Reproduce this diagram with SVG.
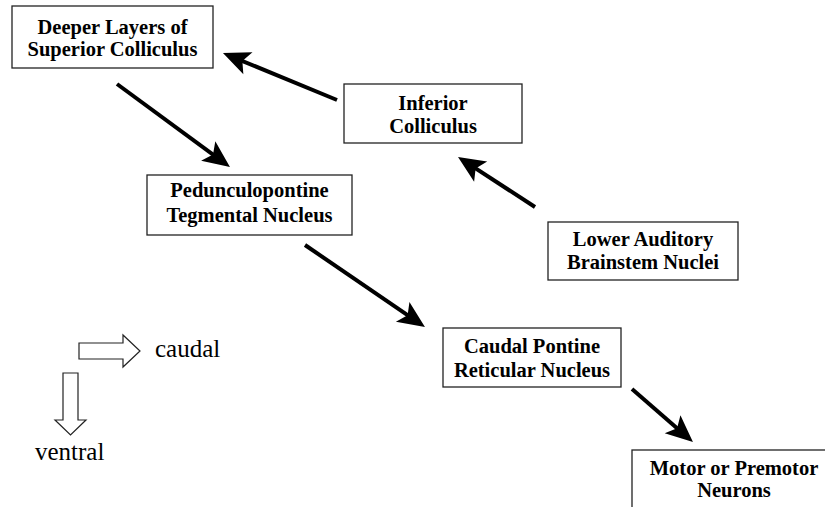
<svg xmlns="http://www.w3.org/2000/svg" width="825" height="507" viewBox="0 0 825 507">
<style>
.box{fill:#fff;stroke:#222;stroke-width:1.3}
.lbl{font-family:'Liberation Serif','Times New Roman',Times,'DejaVu Serif',serif;font-weight:700;font-size:20.5px;fill:#000;text-anchor:middle}
.conn{stroke:#000;stroke-width:4;fill:none;marker-end:url(#ah)}
.hollow{fill:#fff;stroke:#222;stroke-width:1.2}
.dir{font-family:'Liberation Serif','Times New Roman',Times,'DejaVu Serif',serif;font-size:25px;fill:#000}
</style>
<defs>
<marker id="ah" viewBox="-28 -13 30 26" refX="-10" refY="0" markerWidth="30" markerHeight="26" markerUnits="userSpaceOnUse" orient="auto">
<path d="M0,0 L-27,-12 L-21,0 L-27,12 Z" fill="#000"/>
</marker>
</defs>
<rect width="825" height="507" fill="#fff"/>
<g id="connectors">
<line class="conn" x1="337" y1="100" x2="232.2" y2="56.8"/>
<line class="conn" x1="117" y1="84" x2="221.9" y2="161.1"/>
<line class="conn" x1="535" y1="207" x2="466.4" y2="162.4"/>
<line class="conn" x1="305" y1="245" x2="416.7" y2="321.4"/>
<line class="conn" x1="632" y1="389" x2="685.4" y2="435.4"/>
</g>
<g id="deeper-layers">
<rect class="box" x="12" y="6" width="201" height="62"/>
<text class="lbl" x="112.5" y="34">Deeper Layers of</text>
<text class="lbl" x="112.5" y="56">Superior Colliculus</text>
</g>
<g id="inferior-colliculus">
<rect class="box" x="344" y="84" width="178" height="59"/>
<text class="lbl" x="433" y="110">Inferior</text>
<text class="lbl" x="433" y="133">Colliculus</text>
</g>
<g id="pedunculopontine">
<rect class="box" x="147" y="175" width="205" height="60"/>
<text class="lbl" x="249.5" y="197">Pedunculopontine</text>
<text class="lbl" x="249.5" y="222">Tegmental Nucleus</text>
</g>
<g id="lower-auditory">
<rect class="box" x="548" y="222" width="190" height="58"/>
<text class="lbl" x="643" y="246">Lower Auditory</text>
<text class="lbl" x="643" y="269">Brainstem Nuclei</text>
</g>
<g id="caudal-pontine">
<rect class="box" x="443" y="328" width="178" height="59"/>
<text class="lbl" x="532" y="353">Caudal Pontine</text>
<text class="lbl" x="532" y="377">Reticular Nucleus</text>
</g>
<g id="motor-neurons">
<rect class="box" x="632" y="450" width="210" height="70"/>
<text class="lbl" x="734" y="475">Motor or Premotor</text>
<text class="lbl" x="734" y="497">Neurons</text>
</g>
<g id="orientation">
<polygon class="hollow" points="79,343 123,343 123,335 140,351 123,367 123,359 79,359"/>
<text class="dir" x="155" y="357">caudal</text>
<polygon class="hollow" points="63,373 78,373 78,420 86,420 70.5,435 55,420 63,420"/>
<text class="dir" x="35" y="460">ventral</text>
</g>
</svg>
